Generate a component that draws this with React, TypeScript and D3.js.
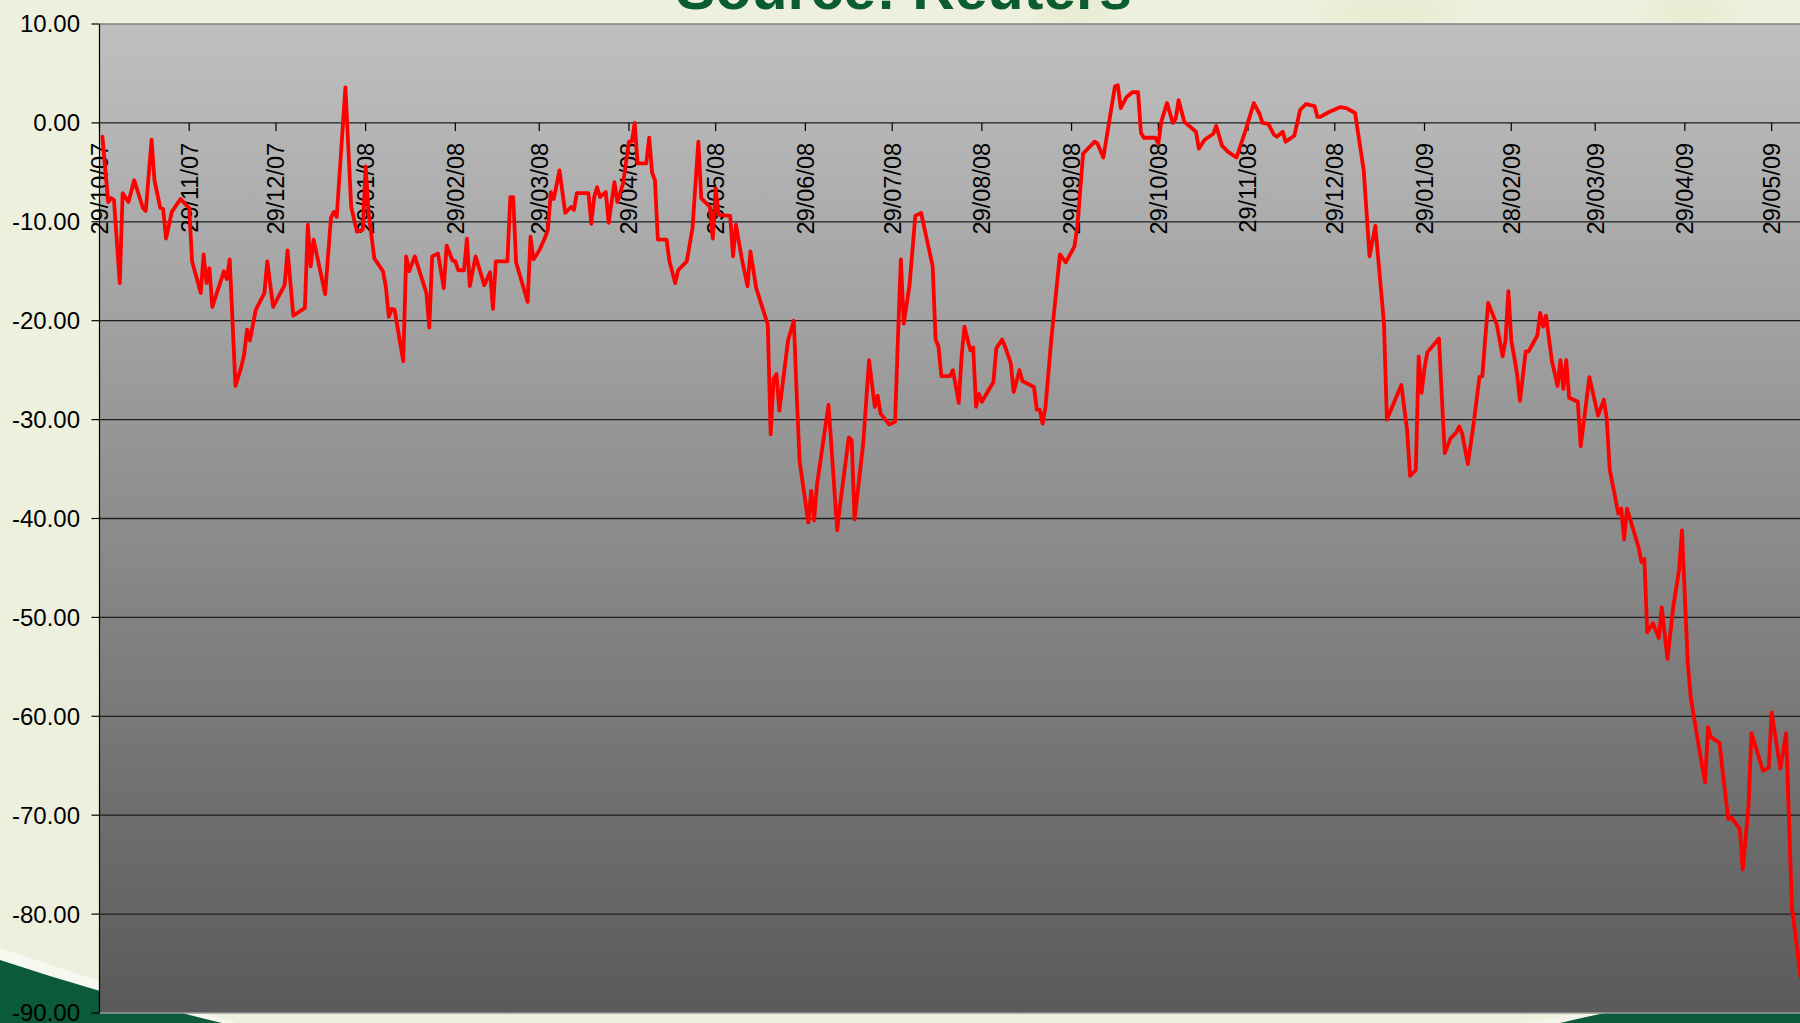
import React from "react";
import * as d3 from "d3";

// Daily percentage change series, indexed by calendar days since the first date.
const startDate = "2007-10-29";

const dayOffsets = [
  1, 3, 4, 5, 7, 8, 10, 12, 15, 16, 18, 19, 21, 22, 23, 25, 28, 31, 32, 35,
  36, 37, 38, 39, 43, 44, 45, 47, 49, 50, 51, 52, 54, 57, 58, 60, 64, 65, 67, 71,
  72, 73, 74, 78, 80, 81, 82, 85, 87, 89, 91, 92, 93, 95, 98, 99, 100, 101, 102, 105,
  106, 107, 109, 113, 114, 115, 117, 119, 120, 122, 123, 124, 126, 127, 128, 130, 133, 135, 136, 137,
  141, 142, 143, 144, 148, 149, 150, 152, 154, 155, 156, 157, 159, 161, 163, 164, 165, 169, 170, 171,
  172, 173, 175, 176, 178, 179, 181, 183, 184, 185, 186, 189, 190, 191, 192, 193, 196, 197, 199, 200,
  203, 205, 207, 208, 211, 212, 213, 214, 218, 219, 220, 222, 224, 225, 227, 231, 232, 233, 234, 235,
  238, 240, 241, 242, 245, 246, 247, 248, 252, 255, 256, 259, 260, 261, 264, 266, 268, 269, 270, 273,
  275, 276, 277, 278, 280, 282, 284, 288, 289, 290, 291, 294, 295, 297, 298, 299, 301, 302, 303, 304,
  305, 309, 310, 312, 313, 315, 316, 318, 319, 323, 324, 325, 326, 327, 329, 332, 334, 337, 338, 340,
  344, 345, 347, 351, 352, 353, 355, 357, 359, 360, 361, 365, 366, 367, 369, 371, 372, 373, 375, 379,
  380, 382, 385, 386, 388, 390, 393, 396, 399, 401, 402, 404, 406, 407, 409, 410, 413, 415, 417, 420,
  421, 422, 425, 429, 431, 434, 437, 439, 441, 444, 445, 450, 452, 453, 455, 456, 457, 458, 459, 463,
  464, 465, 467, 469, 470, 471, 473, 475, 477, 478, 479, 480, 483, 485, 486, 487, 488, 489, 490, 491,
  493, 494, 497, 498, 499, 500, 502, 504, 505, 506, 507, 508, 511, 512, 515, 518, 520, 521, 522, 525,
  526, 527, 528, 532, 533, 534, 535, 537, 539, 540, 542, 544, 546, 547, 549, 550, 553, 555, 556, 557,
  560, 561, 563, 564, 567, 568, 570, 571, 575, 577, 578, 581, 583, 585, 588,
];

const changeValues = [
  -1.4, -8.0, -7.6, -7.8, -16.2, -7.1, -8.0, -5.8, -8.6, -8.9, -1.7, -5.8, -8.6, -8.7, -11.7, -9.0, -7.7, -8.6, -14.0, -17.2,
  -13.3, -16.2, -14.7, -18.6, -15.0, -15.8, -13.8, -26.6, -24.7, -23.4, -20.9, -22.0, -18.9, -17.2, -14.0, -18.6, -16.4, -12.9, -19.5, -18.7,
  -10.3, -14.5, -11.8, -17.3, -9.6, -9.0, -9.5, 3.6, -8.5, -11.0, -10.8, -4.4, -9.1, -13.7, -15.0, -16.6, -19.6, -18.8, -18.9, -24.1,
  -13.5, -15.0, -13.5, -17.2, -20.7, -13.5, -13.2, -16.7, -12.4, -13.9, -14.0, -14.9, -14.9, -11.7, -16.5, -13.5, -16.4, -15.1, -18.8, -14.0,
  -14.0, -7.5, -7.5, -14.1, -18.1, -11.5, -13.8, -12.9, -11.6, -10.8, -7.0, -7.7, -4.8, -9.1, -8.5, -8.8, -7.1, -7.1, -10.2, -7.5,
  -6.5, -7.5, -7.0, -10.1, -6.0, -8.0, -6.1, -1.9, -1.9, 0.0, -4.1, -4.1, -1.5, -5.0, -5.8, -11.8, -11.8, -14.0, -16.2, -14.9,
  -14.0, -10.6, -1.9, -7.6, -8.5, -11.7, -6.6, -9.3, -9.4, -13.5, -10.3, -13.7, -16.5, -13.0, -16.7, -20.4, -31.5, -25.9, -25.4, -29.1,
  -22.0, -20.0, -27.5, -34.2, -40.4, -37.2, -40.2, -36.6, -28.5, -41.2, -38.6, -31.8, -32.1, -40.1, -32.4, -24.0, -28.7, -27.6, -29.4, -30.5,
  -30.2, -21.7, -13.8, -20.3, -16.4, -9.4, -9.1, -14.5, -21.9, -22.6, -25.6, -25.6, -25.0, -28.3, -23.6, -20.6, -23.0, -22.7, -28.7, -27.4,
  -28.2, -26.2, -22.8, -21.9, -22.6, -24.3, -27.2, -25.0, -26.1, -26.7, -29.0, -29.0, -30.4, -28.7, -21.9, -13.3, -14.1, -12.5, -10.5, -3.1,
  -1.9, -2.1, -3.5, 3.7, 3.8, 1.5, 2.6, 3.1, 3.1, -1.0, -1.5, -1.5, -2.1, 0.1, 2.0, 0.0, 0.4, 2.3, 0.1, -0.9,
  -2.6, -1.7, -1.1, -0.3, -2.3, -2.9, -3.5, -0.9, 2.0, 0.9, 0.0, -0.1, -1.2, -1.4, -0.9, -1.9, -1.3, 1.3, 1.9, 1.7,
  0.6, 0.6, 1.1, 1.6, 1.5, 1.0, -4.8, -13.5, -10.4, -20.3, -30.0, -26.5, -31.1, -35.7, -35.1, -23.6, -27.3, -24.8, -23.2, -21.8,
  -27.7, -33.4, -31.9, -31.3, -30.7, -31.4, -34.5, -30.4, -25.7, -25.6, -21.8, -18.2, -20.4, -23.6, -22.0, -17.0, -22.0, -23.6, -25.4, -28.1,
  -23.1, -23.1, -21.5, -19.2, -20.6, -19.5, -24.0, -26.6, -24.0, -26.9, -24.0, -27.8, -28.2, -32.7, -25.7, -29.6, -28.0, -29.9, -35.0, -39.5,
  -39.0, -42.1, -39.0, -42.9, -44.4, -44.1, -51.5, -50.6, -52.1, -49.0, -54.2, -48.9, -45.2, -41.2, -54.6, -58.0, -63.4, -66.7, -61.1, -62.1,
  -62.7, -65.4, -70.4, -70.2, -71.4, -75.5, -69.1, -61.7, -65.5, -65.2, -59.6, -65.3, -61.7, -79.3, -86.3,
];

const yTickValues = [10, 0, -10, -20, -30, -40, -50, -60, -70, -80, -90];

const xTickDates = [
  "2007-10-29", "2007-11-29", "2007-12-29", "2008-01-29", "2008-02-29",
  "2008-03-29", "2008-04-29", "2008-05-29", "2008-06-29", "2008-07-29",
  "2008-08-29", "2008-09-29", "2008-10-29", "2008-11-29", "2008-12-29",
  "2009-01-29", "2009-02-28", "2009-03-29", "2009-04-29", "2009-05-29",
];

const titleText = "Source: Reuters";

const WIDTH = 1800;
const HEIGHT = 1023;
const PLOT = { left: 99.5, top: 24, right: 1800, bottom: 1013 };
const VISIBLE_DAYS = 587.8;
const FONT = "'Liberation Sans', Arial, Helvetica, sans-serif";

const parseDay = d3.utcParse("%Y-%m-%d");
const tickLabel = d3.utcFormat("%d/%m/%y");
const valueLabel = d3.formatLocale({
  decimal: ".",
  thousands: ",",
  grouping: [3],
  currency: ["", ""],
  minus: "-",
}).format(".2f");

export default function App() {
  const start = parseDay(startDate) as Date;
  const end = new Date(start.getTime() + VISIBLE_DAYS * 864e5);

  const x = d3.scaleUtc().domain([start, end]).range([PLOT.left, PLOT.right]);
  const y = d3.scaleLinear().domain([-90, 10]).range([PLOT.bottom, PLOT.top]);

  const points = dayOffsets.map((d, i) => ({
    date: d3.utcDay.offset(start, d),
    value: changeValues[i],
  }));

  const line = d3
    .line<{ date: Date; value: number }>()
    .x((p) => x(p.date))
    .y((p) => y(p.value));

  const zeroY = y(0);
  const plotW = PLOT.right - PLOT.left;
  const plotH = PLOT.bottom - PLOT.top;

  return (
    <svg
      width={WIDTH}
      height={HEIGHT}
      viewBox={`0 0 ${WIDTH} ${HEIGHT}`}
      style={{ position: "absolute", left: 0, top: 0, display: "block" }}
      fontFamily={FONT}
    >
      <defs>
        <linearGradient id="plotFill" x1="0" y1="0" x2="0" y2="1">
          <stop offset="0%" stopColor="#c0c0c0" />
          <stop offset="100%" stopColor="#5a5a5a" />
        </linearGradient>
        <clipPath id="plotClip">
          <rect x={PLOT.left} y={PLOT.top} width={plotW} height={plotH} />
        </clipPath>
        <filter id="soft" x="-50%" y="-50%" width="200%" height="200%">
          <feGaussianBlur stdDeviation="8" />
        </filter>
      </defs>

      {/* slide background */}
      <rect x={0} y={0} width={WIDTH} height={HEIGHT} fill="#eef0de" />
      <g fill="#e3e9c6" opacity={0.45} filter="url(#soft)">
        <ellipse cx={1075} cy={8} rx={40} ry={18} />
        <ellipse cx={1390} cy={10} rx={70} ry={16} />
        <ellipse cx={1690} cy={10} rx={45} ry={16} />
      </g>
      {/* green swooshes at the bottom corners */}
      <path d="M0,948 Q110,985 236,1023 L0,1023 Z" fill="#f6f7ee" />
      <path d="M0,960 Q105,995 222,1023 L0,1023 Z" fill="#0b5a3a" />
      <path d="M1520,1023 Q1560,1016 1600,1012 L1800,1012 L1800,1023 Z" fill="#f4f5ea" />
      <path d="M1560,1023 Q1585,1017 1610,1012 L1800,1012 L1800,1023 Z" fill="#0b5a3a" />

      {/* title, partly above the top edge */}
      <text
        x={904}
        y={9}
        textAnchor="middle"
        fontSize={59}
        fontWeight="bold"
        fill="#0b5c30"
      >
        {titleText}
      </text>

      {/* plot area */}
      <rect
        x={PLOT.left}
        y={PLOT.top}
        width={plotW}
        height={plotH}
        fill="url(#plotFill)"
      />

      {/* horizontal gridlines */}
      <g>
        {yTickValues
          .filter((v) => v !== 10 && v !== -90)
          .map((v) => (
            <line
              key={v}
              x1={PLOT.left}
              x2={PLOT.right}
              y1={y(v)}
              y2={y(v)}
              stroke="#1e1e1e"
              strokeWidth={1.3}
            />
          ))}
      </g>

      {/* plot border */}
      <line x1={PLOT.left} x2={PLOT.right} y1={PLOT.top} y2={PLOT.top} stroke="#808080" strokeWidth={1.6} />
      <line x1={PLOT.left} x2={PLOT.right} y1={PLOT.bottom} y2={PLOT.bottom} stroke="#9a9a9a" strokeWidth={1.4} />
      <line x1={PLOT.left} x2={PLOT.left} y1={PLOT.top} y2={PLOT.bottom} stroke="#000" strokeWidth={1.2} />

      {/* y axis ticks and labels */}
      <g>
        {yTickValues.map((v) => (
          <g key={v}>
            <line x1={PLOT.left - 8} x2={PLOT.left} y1={y(v)} y2={y(v)} stroke="#000" strokeWidth={1.2} />
            <text x={80} y={y(v)} dy="0.35em" textAnchor="end" fontSize={24} fill="#000">
              {valueLabel(v)}
            </text>
          </g>
        ))}
      </g>

      {/* x axis ticks and rotated date labels on the zero line */}
      <g>
        {xTickDates.map((s) => {
          const d = parseDay(s) as Date;
          const tx = x(d);
          return (
            <g key={s}>
              <line x1={tx} x2={tx} y1={zeroY} y2={zeroY + 8} stroke="#000" strokeWidth={1.2} />
              <text
                transform={`translate(${tx},${zeroY + 20}) rotate(-90)`}
                dy="0.36em"
                textAnchor="end"
                fontSize={23.5}
                fill="#000"
              >
                {tickLabel(d)}
              </text>
            </g>
          );
        })}
      </g>

      {/* data line */}
      <g clipPath="url(#plotClip)">
        <path
          d={line(points) ?? ""}
          fill="none"
          stroke="#ff0000"
          strokeWidth={3.8}
          strokeLinejoin="round"
          strokeLinecap="round"
        />
      </g>
    </svg>
  );
}
